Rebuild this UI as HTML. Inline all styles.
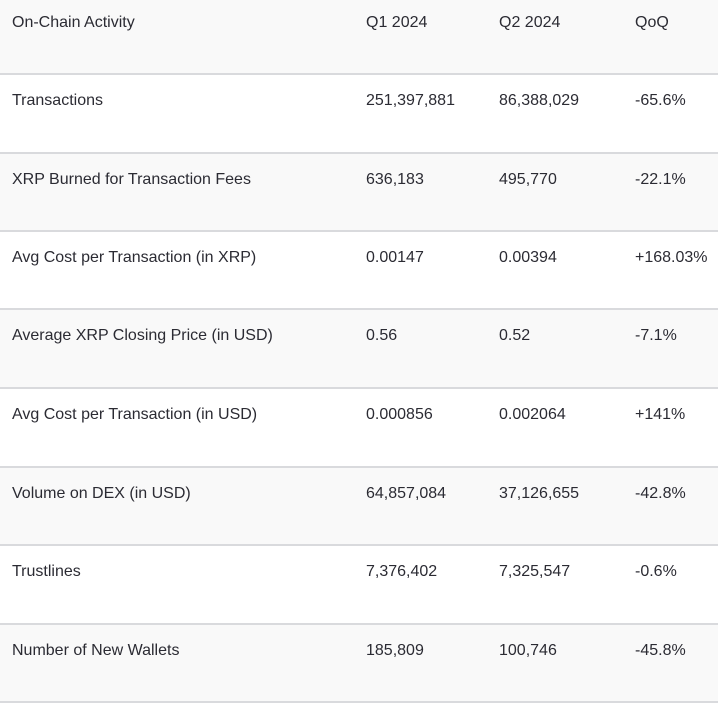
<!DOCTYPE html>
<html><head><meta charset="utf-8"><style>
html,body{margin:0;padding:0;background:#fff;}
body{width:718px;height:705px;position:relative;overflow:hidden;font-family:"Liberation Sans",sans-serif;font-size:16px;color:#2b2b33;}
.row{position:absolute;left:0;width:718px;}
.g{background:#f9f9f9;}
.ln{position:absolute;left:0;width:718px;height:2px;background:#d9dadd;}
.c{position:absolute;white-space:nowrap;}
</style></head><body>
<div id="t"></div>
<script>
const lines=[0,73,152,230,308,387,466,544,623,701];
const rows=[
["On-Chain Activity","Q1 2024","Q2 2024","QoQ"],
["Transactions","251,397,881","86,388,029","-65.6%"],
["XRP Burned for Transaction Fees","636,183","495,770","-22.1%"],
["Avg Cost per Transaction (in XRP)","0.00147","0.00394","+168.03%"],
["Average XRP Closing Price (in USD)","0.56","0.52","-7.1%"],
["Avg Cost per Transaction (in USD)","0.000856","0.002064","+141%"],
["Volume on DEX (in USD)","64,857,084","37,126,655","-42.8%"],
["Trustlines","7,376,402","7,325,547","-0.6%"],
["Number of New Wallets","185,809","100,746","-45.8%"]];
const xs=[12,366,499,635];
const t=document.getElementById('t');
rows.forEach((r,i)=>{
  const d=document.createElement('div');
  d.className='row'+(i%2===0?' g':'');
  
  
  const top=i===0?0:lines[i]+2;
  d.style.top=top+'px';
  d.style.height=(lines[i+1]-top)+'px';
  r.forEach((v,j)=>{
    const s=document.createElement('div');
    s.className='c';
    
    
    s.style.left=xs[j]+'px';
    s.style.top=(i===0?14:17)+'px';
    s.textContent=v;
    d.appendChild(s);
  });
  t.appendChild(d);
  const l=document.createElement('div');
  l.className='ln';
  
  
  l.style.top=lines[i+1]+'px';
  t.appendChild(l);
});
</script>
</body></html>
